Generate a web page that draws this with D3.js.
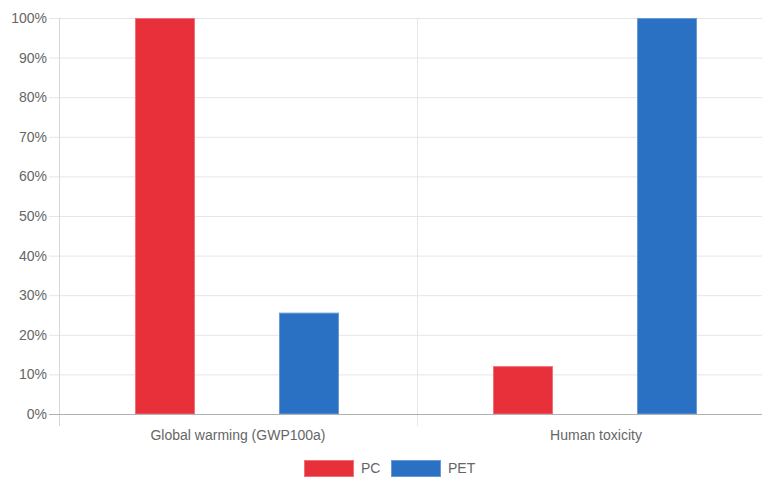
<!DOCTYPE html>
<html><head><meta charset="utf-8">
<script src="https://cdn.jsdelivr.net/npm/d3@7/dist/d3.min.js"></script>
<style>body{margin:0;background:#fff}svg{display:block}</style>
</head><body>
<svg id="c" width="762" height="477"></svg>
<script>
const categories = ["Global warming (GWP100a)", "Human toxicity"];
const seriesNames = ["PC", "PET"];
const pcValues = [100, 12.1];
const petValues = [25.6, 100];
const yTicks = [0,10,20,30,40,50,60,70,80,90,100];
const colors = {PC: "#e8303a", PET: "#2a71c4"};
const borders = {PC: "#f0707a", PET: "#6a9ad6"};

(function(){
const svg = d3.select("#c");
const pL = 59, pR = 775, pT = 18, pB = 414;
const font = "Arial, 'Liberation Sans', sans-serif";
const fs = 14;

const x = d3.scaleBand().domain(categories).range([pL, pR]).paddingInner(0).paddingOuter(0);
const y = d3.scaleLinear().domain([0, 100]).range([pB, pT]);
const inner = d3.scaleBand().domain(seriesNames).range([x.bandwidth()*0.1, x.bandwidth()*0.9]);
const barW = 60;

svg.append("g").selectAll("line").data(yTicks).join("line")
  .attr("x1", pL - 10).attr("x2", pR)
  .attr("y1", d => y(d) + 0.5).attr("y2", d => y(d) + 0.5)
  .attr("stroke", d => d === 0 ? "#b0b0b0" : "#e6e6e6").attr("stroke-width", 1);

const vlines = [pL, x(categories[1]), pR];
svg.append("g").selectAll("line").data(vlines).join("line")
  .attr("x1", d => d + 0.5).attr("x2", d => d + 0.5)
  .attr("y1", pT).attr("y2", pB + 12)
  .attr("stroke", (d, i) => i === 0 ? "#d6d6d6" : "#e6e6e6");

svg.append("g").selectAll("text").data(yTicks).join("text")
  .attr("x", pL - 12).attr("y", d => y(d)).attr("dy", "0.35em")
  .attr("text-anchor", "end").attr("font-family", font).attr("font-size", fs)
  .attr("fill", "#666").text(d => d + "%");

const data = [];
categories.forEach((c, i) => {
  data.push({c, s: "PC", v: pcValues[i]});
  data.push({c, s: "PET", v: petValues[i]});
});
svg.append("g").selectAll("rect").data(data).join("rect")
  .attr("x", d => Math.round(x(d.c) + inner(d.s) + inner.bandwidth()/2 - barW/2) - 0.5)
  .attr("width", barW - 1)
  .attr("y", d => y(d.v) + 0.5)
  .attr("height", d => y(0) - y(d.v) - 0.5)
  .attr("fill", d => colors[d.s])
  .attr("stroke", d => borders[d.s]).attr("stroke-width", 1);
svg.append("line").attr("x1", pL).attr("x2", pR).attr("y1", pB + 0.5).attr("y2", pB + 0.5).attr("stroke", "#b0b0b0");

svg.append("g").selectAll("text").data(categories).join("text")
  .attr("x", d => x(d) + x.bandwidth()/2).attr("y", 435).attr("dy", "0.35em")
  .attr("text-anchor", "middle").attr("font-family", font).attr("font-size", fs)
  .attr("fill", "#666").text(d => d);

const lg = svg.append("g");
const legendItems = [{s:"PC", x:304}, {s:"PET", x:391}];
const boxW = 50;
lg.selectAll("rect").data(legendItems).join("rect")
  .attr("x", d => d.x + 0.5).attr("y", 460.5).attr("width", boxW - 1).attr("height", 16)
  .attr("fill", d => colors[d.s]).attr("stroke", d => borders[d.s]);
lg.selectAll("text").data(legendItems).join("text")
  .attr("x", d => d.x + boxW + 7).attr("y", 468.5).attr("dy", "0.35em")
  .attr("font-family", font).attr("font-size", fs).attr("fill", "#666").text(d => d.s);
})();
</script>
</body></html>
